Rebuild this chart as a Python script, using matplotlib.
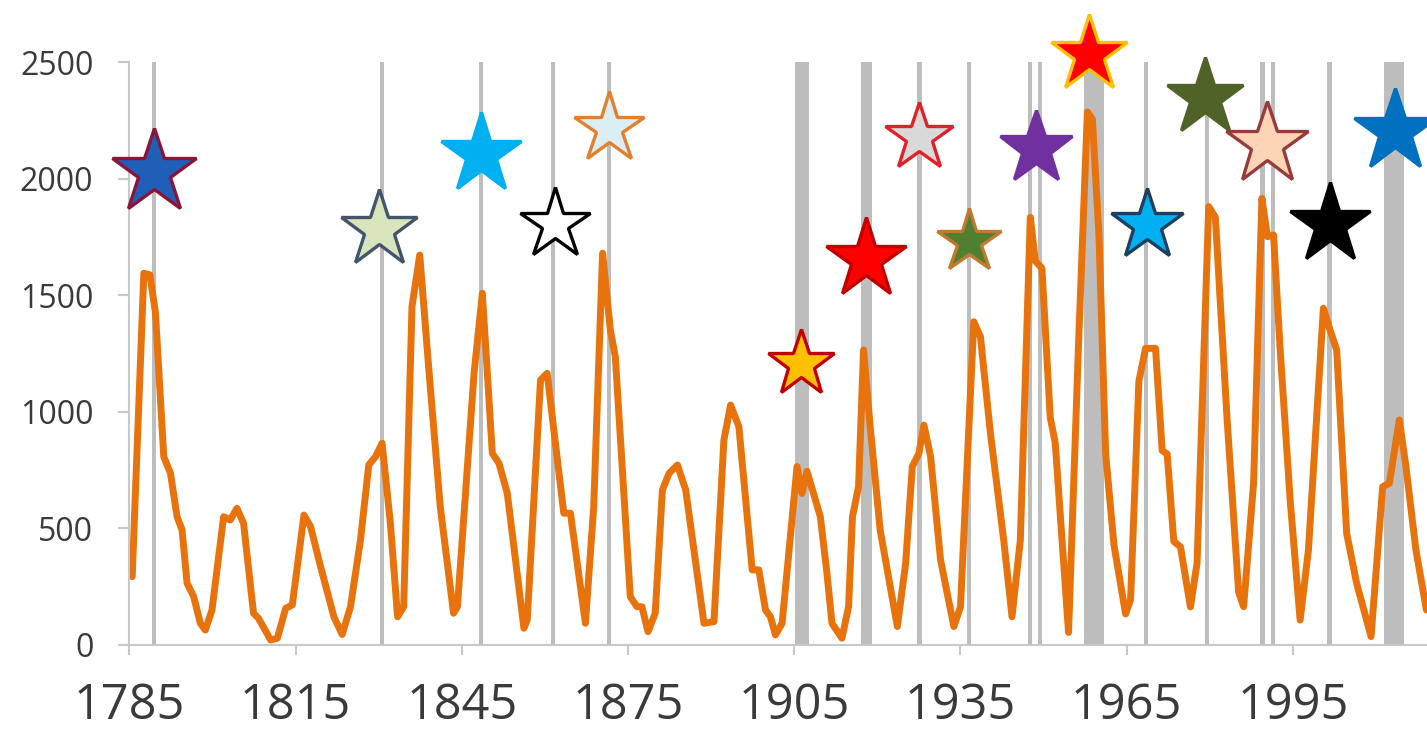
import matplotlib.pyplot as plt

# orange curve, digitised vertices (year, value)
years = [1785.5, 1787.6, 1788.7, 1789.7, 1791.2, 1792.4, 1793.6, 1794.5, 1795.4, 1796.6,
         1797.8, 1798.7, 1799.9, 1802.0, 1803.2, 1804.4, 1805.6, 1807.4, 1808.3, 1810.5,
         1811.7, 1813.2, 1814.4, 1816.5, 1817.7, 1819.5, 1821.9, 1823.4, 1824.9, 1826.7,
         1828.2, 1829.4, 1830.6, 1832.1, 1833.4, 1834.5, 1836.0, 1837.4, 1839.0, 1841.1,
         1843.5, 1844.2, 1847.2, 1848.7, 1850.5, 1851.7, 1853.2, 1856.2, 1856.8, 1859.2,
         1860.4, 1861.6, 1863.4, 1864.6, 1867.3, 1868.8, 1870.4, 1871.8, 1872.7, 1875.4,
         1876.6, 1877.5, 1878.6, 1879.9, 1881.2, 1882.4, 1883.9, 1885.4, 1888.7, 1890.5,
         1892.3, 1893.5, 1895.0, 1897.4, 1898.6, 1899.8, 1900.7, 1901.6, 1902.8, 1905.5,
         1906.4, 1907.3, 1909.7, 1910.9, 1911.8, 1913.6, 1914.8, 1915.5, 1916.6, 1917.5,
         1918.7, 1920.5, 1923.6, 1925.1, 1926.3, 1927.5, 1928.4, 1929.6, 1931.4, 1933.8,
         1935.0, 1937.4, 1938.6, 1940.4, 1942.8, 1944.3, 1945.8, 1947.6, 1948.5, 1949.7,
         1951.2, 1952.1, 1954.5, 1956.3, 1957.9, 1958.8, 1960.0, 1961.2, 1962.7, 1964.8,
         1965.7, 1967.2, 1968.4, 1970.2, 1971.4, 1972.3, 1973.5, 1974.7, 1976.5, 1977.7,
         1979.8, 1981.0, 1983.1, 1985.2, 1986.1, 1987.9, 1989.4, 1990.4, 1991.5, 1992.7,
         1994.5, 1996.3, 1997.8, 2000.5, 2001.7, 2002.9, 2004.7, 2006.5, 2009.1, 2011.2,
         2012.4, 2014.2, 2015.4, 2017.2, 2019.1]
values = [293, 1594, 1587, 1424, 807, 737, 550, 493, 265, 207,
          93, 64, 150, 550, 536, 586, 522, 136, 114, 21,
          29, 157, 172, 557, 507, 336, 121, 45, 164, 450,
          772, 807, 865, 522, 121, 164, 1451, 1672, 1193, 593,
          136, 164, 1165, 1508, 822, 779, 650, 72, 107, 1136,
          1165, 922, 565, 565, 93, 593, 1680, 1351, 1236, 207,
          164, 164, 57, 136, 665, 736, 772, 665, 93, 100,
          879, 1029, 936, 322, 322, 150, 121, 43, 93, 765,
          650, 745, 550, 307, 93, 29, 164, 550, 679, 1265,
          936, 493, 79, 350, 765, 822, 943, 808, 365, 79,
          164, 1386, 1322, 908, 450, 121, 450, 1834, 1647, 1615,
          975, 866, 54, 1287, 2286, 2255, 1756, 819, 429, 133,
          195, 1132, 1272, 1272, 834, 819, 444, 421, 163, 351,
          1880, 1834, 975, 226, 164, 693, 1915, 1751, 1758, 1265,
          622, 107, 407, 1444, 1351, 1265, 479, 264, 36, 679,
          693, 965, 765, 407, 150]

# grey event markers (start, end year)
event_start = [1789.0, 1830.2, 1848.1, 1861.0, 1871.2, 1905.2, 1917.0, 1927.2, 1936.1,
               1947.1, 1949.0, 1957.3, 1968.1, 1979.1, 1989.1, 1991.0, 2001.2, 2011.4]
event_end = [1789.8, 1831.0, 1848.9, 1861.8, 1872.0, 1907.6, 1919.0, 1928.0, 1936.9,
             1947.9, 1949.8, 1960.9, 1968.9, 1979.9, 1989.9, 1991.8, 2002.0, 2015.0]

# stars
star_years = [1789.5, 1830.0, 1848.5, 1861.8, 1871.5, 1906.3, 1918.0, 1927.6,
              1936.5, 1948.6, 1958.2, 1968.6, 1979.1, 1990.3, 2001.7, 2013.4]
star_values = [2030, 1785, 2105, 1805, 2215, 1205, 1655, 2178,
               1732, 2130, 2535, 1800, 2350, 2147, 1805, 2205]
star_fill = ['#1f5fb8', '#d8e4bc', '#00b0f0', '#ffffff', '#dbeef4', '#ffc000', '#ff0000', '#d9d9d9',
             '#4f7f2f', '#7030a0', '#ff0000', '#00b0f0', '#4f6228', '#fbd5b5', '#000000', '#0070c0']
star_edge = ['#8b1538', '#44546a', '#00b0f0', '#000000', '#e08030', '#c00000', '#c00000', '#e0202a',
             '#c07a30', '#7030a0', '#ffc000', '#1f3f5f', '#4f6228', '#963c3c', '#000000', '#0070c0']
star_size = [64, 58, 60, 53, 53, 50, 60, 51, 48, 55, 58, 54, 58, 62, 60, 62]

plt.rcParams['font.family'] = ['Open Sans', 'DejaVu Sans']

fig = plt.figure(figsize=(14.27, 7.33), dpi=100)
ax = fig.add_axes([0.0907, 0.1201, 0.9093, 0.7953])

for s, e in zip(event_start, event_end):
    ax.axvspan(s, e, color='#bdbdbd', lw=0, zorder=1)

ax.plot(years, values, color='#e8720c', lw=5, zorder=2,
        solid_joinstyle='round', solid_capstyle='round')

for x, y, fc, ec, ms in zip(star_years, star_values, star_fill, star_edge, star_size):
    ax.plot(x, y, marker='*', ms=ms, mfc=fc, mec=ec, mew=2.4, ls='none',
            clip_on=False, zorder=3)

ax.set_xlim(1785, 2019.2)
ax.set_ylim(0, 2500)
ax.set_xticks(range(1785, 2016, 30))
ax.set_yticks(range(0, 2501, 500))

for side in ['top', 'right']:
    ax.spines[side].set_visible(False)
for side in ['left', 'bottom']:
    ax.spines[side].set_color('#c8c8c8')
    ax.spines[side].set_linewidth(1.5)

ax.tick_params(axis='x', length=7, width=1.5, color='#c8c8c8', labelsize=35,
               labelcolor='#3a3a3a', pad=19)
ax.tick_params(axis='y', length=8, width=1.5, color='#c8c8c8', labelsize=23,
               labelcolor='#3a3a3a', pad=18)

fig.savefig('out.png', dpi=100)
